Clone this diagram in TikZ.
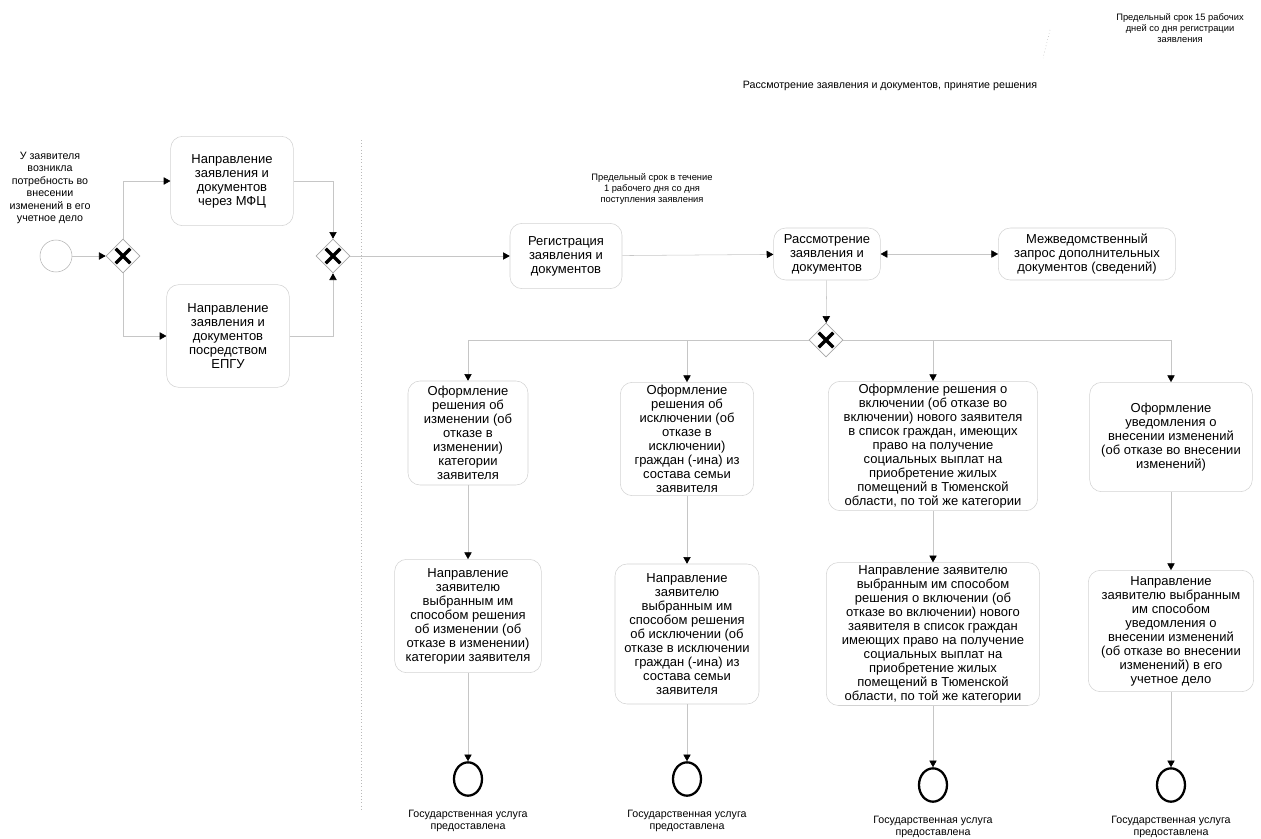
\documentclass[tikz,border=0pt]{standalone}
\usepackage{fontspec}
\setmainfont{Liberation Sans}
\usetikzlibrary{shapes.geometric,arrows.meta}

\begin{document}
\begin{tikzpicture}[x=0.75pt,y=-0.75pt,line cap=butt,line join=miter,
	>={Triangle[length=5pt,width=5.5pt,color=black]},
	font=\fontsize{9.75}{10.5}\selectfont]
	\tikzset{task/.style={draw=gray!35,rounded corners=9pt,align=center,inner sep=2pt},
		gw/.style={diamond,draw=gray!70,line width=0.5pt,minimum width=25.5pt,
			minimum height=25.5pt,inner sep=0pt,
			path picture={\draw[line width=2.4pt,black]
				([shift={(-5.5pt,-5.5pt)}]path picture bounding box.center) --
				([shift={(5.5pt,5.5pt)}]path picture bounding box.center)
				([shift={(-5.5pt,5.5pt)}]path picture bounding box.center) --
				([shift={(5.5pt,-5.5pt)}]path picture bounding box.center);}},
		startev/.style={circle,draw=gray!60,minimum size=24pt,inner sep=0pt},
		endev/.style={ellipse,draw,line width=1.7pt,minimum width=21pt,minimum height=25pt,inner sep=0pt},
		flow/.style={->,draw=gray!45,line width=0.4pt},
		note/.style={align=center,font=\fontsize{7}{8.25}\selectfont},
		small/.style={align=center,font=\fontsize{8}{9.5}\selectfont}}
	\useasboundingbox (0,0) rectangle (1261,839);
	% lane
	\draw[gray!55,dotted] (361,140) -- (361,810);
	\node[small] (lanelbl) at (890,86) {Рассмотрение заявления и документов, принятие решения};
	\node[note] (term15) at (1180,28) {Предельный срок 15 рабочих\\дней со дня регистрации\\заявления};
	\draw[gray!70,dotted] (1050,30) -- (1043,58);
	\node[note] (term1) at (652,189) {Предельный срок в течение\\1 рабочего дня со дня\\поступления заявления};
	% start
	\node[small,font=\fontsize{8}{9.4}\selectfont] (startlbl) at (50,188) {У заявителя\\возникла\\потребность во\\внесении\\изменений в его\\учетное дело};
	\node[startev] (start) at (56,256) {};
	\node[gw] (gw1) at (123,256) {};
	\node[task,minimum width=92pt,minimum height=67pt] (mfc) at (232,181) {Направление\\заявления и\\документов\\через МФЦ};
	\node[task,minimum width=92pt,minimum height=77pt] (epgu) at (228,336) {Направление\\заявления и\\документов\\посредством\\ЕПГУ};
	\node[gw] (gw2) at (333,256) {};
	\node[task,minimum width=84pt,minimum height=49pt] (reg) at (566,256) {Регистрация\\заявления и\\документов};
	\node[task,minimum width=80pt,minimum height=39pt] (rev) at (827,254) {Рассмотрение\\заявления и\\документов};
	\node[task,minimum width=133pt,minimum height=39pt] (mvz) at (1087,254) {Межведомственный\\запрос дополнительных\\документов (сведений)};
	\node[gw] (gw3) at (826,340) {};
	% decisions
	\node[task,minimum width=90pt,minimum height=78pt] (dchg) at (468,433) {Оформление\\решения об\\изменении (об\\отказе в\\изменении)\\категории\\заявителя};
	\node[task,minimum width=100pt,minimum height=85pt] (dexc) at (687,439) {Оформление\\решения об\\исключении (об\\отказе в\\исключении)\\граждан (-ина) из\\состава семьи\\заявителя};
	\node[task,minimum width=157pt,minimum height=96pt] (dinc) at (933,446) {Оформление решения о\\включении (об отказе во\\включении) нового заявителя\\в список граждан, имеющих\\право на получение\\социальных выплат на\\приобретение жилых\\помещений в Тюменской\\области, по той же категории};
	\node[task,minimum width=122pt,minimum height=82pt] (dntf) at (1171,437) {Оформление\\уведомления о\\внесении изменений\\(об отказе во внесении\\изменений)};
	% sending
	\node[task,minimum width=110pt,minimum height=85pt] (schg) at (468,616) {Направление\\заявителю\\выбранным им\\способом решения\\об изменении (об\\отказе в изменении)\\категории заявителя};
	\node[task,minimum width=108pt,minimum height=105pt] (sexc) at (687,634) {Направление\\заявителю\\выбранным им\\способом решения\\об исключении (об\\отказе в исключении\\граждан (-ина) из\\состава семьи\\заявителя};
	\node[task,minimum width=160pt,minimum height=106pt] (sinc) at (933,634) {Направление заявителю\\выбранным им способом\\решения о включении (об\\отказе во включении) нового\\заявителя в список граждан\\имеющих право на получение\\социальных выплат на\\приобретение жилых\\помещений в Тюменской\\области, по той же категории};
	\node[task,minimum width=124pt,minimum height=91pt] (sntf) at (1171,631) {Направление\\заявителю выбранным\\им способом\\уведомления о\\внесении изменений\\(об отказе во внесении\\изменений) в его\\учетное дело};
	% ends
	\foreach \n/\x/\y in {chg/468/779,exc/687/779,inc/933/785,ntf/1171/785}{
		\node[endev] (end\n) at (\x,\y) {};
		\node[small] (endlbl\n) at (\x,\y+42) {Государственная услуга\\предоставлена};}
	% flows
	\draw[flow] (start) -- (gw1);
	\draw[flow] (gw1.north) |- (mfc.west);
	\draw[flow] (gw1.south) |- (epgu.west);
	\draw[flow] (mfc.east) -| (gw2.north);
	\draw[flow] (epgu.east) -| (gw2.south);
	\draw[flow] (gw2) -- (reg);
	\draw[flow] (reg) -- (rev);
	\draw[flow,<->] (rev) -- (mvz);
	\draw[flow] (rev) -- (gw3);
	\draw[flow] (gw3.west) -| (dchg.north);
	\draw[flow] (gw3.west) -| (dexc.north);
	\draw[flow] (gw3.east) -| (dinc.north);
	\draw[flow] (gw3.east) -| (dntf.north);
	\foreach \n in {chg,exc,inc,ntf}{
		\draw[flow] (d\n) -- (s\n);
		\draw[flow] (s\n) -- (end\n);}
\end{tikzpicture}
\end{document}
